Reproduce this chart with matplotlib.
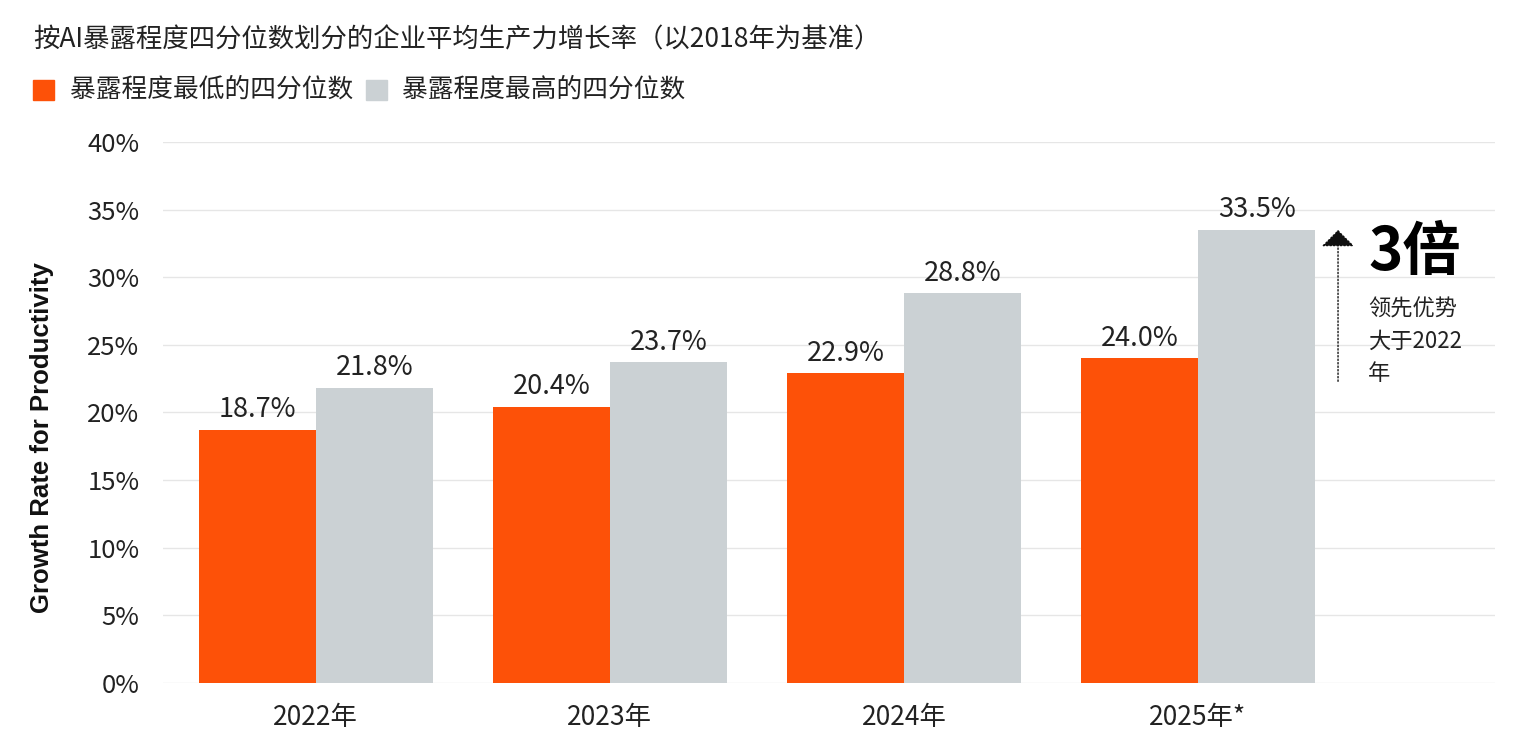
import matplotlib.pyplot as plt
import numpy as np

plt.rcParams['font.family'] = ['Noto Sans CJK SC', 'DejaVu Sans']

years = ["2022年", "2023年", "2024年", "2025年*"]
lowest = [18.7, 20.4, 22.9, 24.0]
highest = [21.8, 23.7, 28.8, 33.5]
yticks = [0, 5, 10, 15, 20, 25, 30, 35, 40]

title = "按AI暴露程度四分位数划分的企业平均生产力增长率（以2018年为基准）"
label_low = "暴露程度最低的四分位数"
label_high = "暴露程度最高的四分位数"

orange = "#FD5108"
grey = "#CBD1D4"

fig = plt.figure(figsize=(15.29, 7.5), dpi=100)
ax = fig.add_axes([0.1066, 0.0893, 0.8712, 0.7214])

x = np.arange(len(years))
w = 0.398
ax.bar(x - w / 2, lowest, w, color=orange, zorder=3)
ax.bar(x + w / 2, highest, w, color=grey, zorder=3)

for xi, v in zip(x, lowest):
    ax.text(xi - w / 2, v + 0.5, f"{v:.1f}%", ha="center", va="bottom",
            fontsize=19.5, fontweight="light", color="#222222")
for xi, v in zip(x, highest):
    ax.text(xi + w / 2, v + 0.5, f"{v:.1f}%", ha="center", va="bottom",
            fontsize=19.5, fontweight="light", color="#222222")

ax.set_xlim(-0.52, 4.01)
ax.set_ylim(0, 40)
ax.set_yticks(yticks)
ax.set_yticklabels([f"{t}%" for t in yticks], fontsize=18.5, fontweight="light")
ax.set_xticks(x)
ax.set_xticklabels(years, fontsize=19, fontweight="light")
ax.tick_params(length=0, pad=15, colors="#222222")
ax.tick_params(axis="y", pad=17)
ax.grid(axis="y", color="#E6E6E6", linewidth=1, zorder=0)
for s in ax.spines.values():
    s.set_visible(False)

fig.text(42 / 1529, 1 - 438 / 750, "Growth Rate for Productivity", rotation=90,
         fontsize=18.5, fontweight="bold", family=["Liberation Sans", "DejaVu Sans"],
         ha="center", va="center", color="#111111")

# annotation at the right
ax_x = 3.476
ax.annotate("", xy=(ax_x, highest[-1] + 0.2), xytext=(ax_x, 22.1),
            arrowprops=dict(arrowstyle="-|>,head_width=0.35,head_length=0.35",
                            linestyle=(0, (1, 1.5)),
                            color="#111111", lw=1, mutation_scale=30))
ax.text(3.578, 34.0, "3倍", fontsize=42, fontweight="bold", va="top", ha="left")
ax.text(3.578, 28.5, "领先优势\n大于2022\n年", fontsize=16, fontweight="light",
        va="top", ha="left", linespacing=1.5, color="#222222")

fig.text(33 / 1529, 1 - 40 / 750, title, fontsize=19, fontweight="light",
         va="center", ha="left", color="#222222")

# legend
fig.patches.append(plt.Rectangle((33 / 1529, 1 - 100 / 750), 21 / 1529, 20 / 750,
                                 transform=fig.transFigure, color=orange))
fig.text(70 / 1529, 1 - 90 / 750, label_low, fontsize=18.5, fontweight="light",
         va="center", ha="left", color="#222222")
fig.patches.append(plt.Rectangle((366 / 1529, 1 - 100 / 750), 21 / 1529, 20 / 750,
                                 transform=fig.transFigure, color=grey))
fig.text(402 / 1529, 1 - 90 / 750, label_high, fontsize=18.5, fontweight="light",
         va="center", ha="left", color="#222222")

fig.savefig("out.png", dpi=100)
